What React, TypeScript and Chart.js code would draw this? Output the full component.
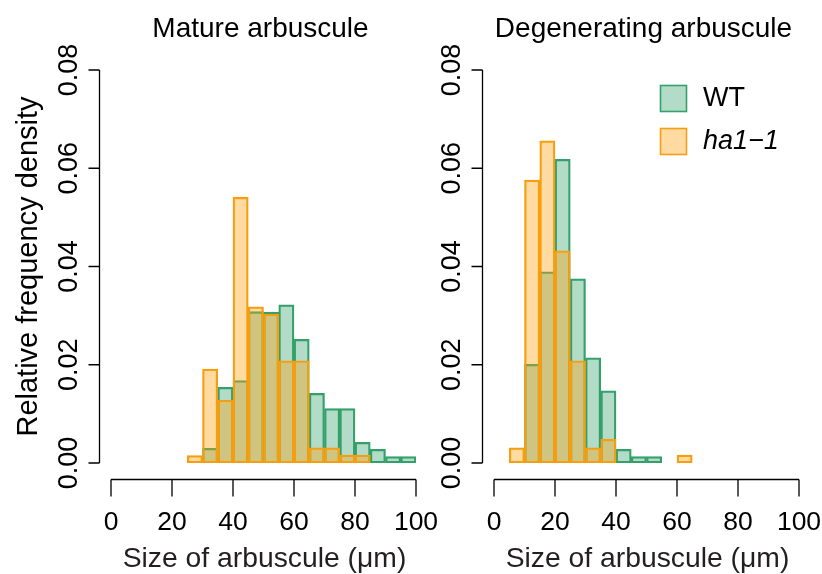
import React, { useEffect, useRef } from "react";
import { Chart, registerables } from "chart.js";

Chart.register(...registerables);

// Bin centres (bin width 5 µm)
const MATURE_WT_X = [32.5, 37.5, 42.5, 47.5, 52.5, 57.5, 62.5, 67.5, 72.5, 77.5, 82.5, 87.5, 92.5, 97.5];
const MATURE_WT_Y = [0.003, 0.0154, 0.0168, 0.0308, 0.0307, 0.0322, 0.0252, 0.0142, 0.0111, 0.0111, 0.0042, 0.0028, 0.0013, 0.0013];
const MATURE_HA_X = [27.5, 32.5, 37.5, 42.5, 47.5, 52.5, 57.5, 62.5, 67.5, 72.5, 77.5, 82.5];
const MATURE_HA_Y = [0.0015, 0.0191, 0.0128, 0.0541, 0.0318, 0.0303, 0.0208, 0.0208, 0.0031, 0.0031, 0.0016, 0.0016];

const DEGEN_WT_X = [12.5, 17.5, 22.5, 27.5, 32.5, 37.5, 42.5, 47.5, 52.5];
const DEGEN_WT_Y = [0.0201, 0.0389, 0.0618, 0.0375, 0.0214, 0.0147, 0.0028, 0.0013, 0.0013];
const DEGEN_HA_X = [7.5, 12.5, 17.5, 22.5, 27.5, 32.5, 37.5, 42.5, 47.5, 52.5, 57.5, 62.5];
const DEGEN_HA_Y = [0.0031, 0.0576, 0.0656, 0.0432, 0.0208, 0.0031, 0.0048, 0, 0, 0, 0, 0.0016];

const X_TICKS = [0, 20, 40, 60, 80, 100];
const Y_TICKS = [0, 0.02, 0.04, 0.06, 0.08];
const Y_TICK_LABELS = ["0.00", "0.02", "0.04", "0.06", "0.08"];

const SERIES_NAMES = ["WT", "ha1\u22121"];
const PANEL_TITLES = ["Mature arbuscule", "Degenerating arbuscule"];
const X_TITLE = "Size of arbuscule (\u03bcm)";
const Y_TITLE = "Relative frequency density";

const GREEN_BORDER = "rgb(52,160,106)";
const GREEN_FILL = "rgba(50,160,105,0.37)";
const ORANGE_BORDER = "rgb(245,158,18)";
const ORANGE_FILL = "rgba(255,160,10,0.38)";

const FONT = "'Liberation Sans', Arial, Helvetica, sans-serif";

type PanelProps = {
  left: number;
  width: number;
  padLeft: number;
  title: string;
  wtX: number[];
  wtY: number[];
  haX: number[];
  haY: number[];
  showYTitle: boolean;
  showLegend: boolean;
};

function Panel(props: PanelProps) {
  const ref = useRef<HTMLCanvasElement | null>(null);
  useEffect(() => {
    const canvas = ref.current;
    if (!canvas) return;
    const H = 574;
    const axesPlugin = {
      id: "rAxes",
      afterDraw(chart: any) {
        const ctx = chart.ctx as CanvasRenderingContext2D;
        const xs = chart.scales.x;
        const ys = chart.scales.y;
        const ca = chart.chartArea;
        ctx.save();
        ctx.strokeStyle = "#000";
        ctx.fillStyle = "#000";
        ctx.lineWidth = 1.3;
        // y axis
        const ax = Math.round(ca.left - 12) + 0.5;
        ctx.beginPath();
        ctx.moveTo(ax, ys.getPixelForValue(Y_TICKS[0]));
        ctx.lineTo(ax, ys.getPixelForValue(Y_TICKS[Y_TICKS.length - 1]));
        Y_TICKS.forEach((v) => {
          const py = ys.getPixelForValue(v);
          ctx.moveTo(ax, py);
          ctx.lineTo(ax - 11, py);
        });
        ctx.stroke();
        ctx.font = `27px ${FONT}`;
        ctx.textAlign = "center";
        ctx.textBaseline = "alphabetic";
        Y_TICKS.forEach((v, i) => {
          const py = ys.getPixelForValue(v);
          ctx.save();
          ctx.translate(ax - 23, py);
          ctx.rotate(-Math.PI / 2);
          ctx.fillText(Y_TICK_LABELS[i], 0, 0);
          ctx.restore();
        });
        // x axis
        const ay = Math.round(ca.bottom + 16) + 0.5;
        ctx.beginPath();
        ctx.moveTo(xs.getPixelForValue(X_TICKS[0]), ay);
        ctx.lineTo(xs.getPixelForValue(X_TICKS[X_TICKS.length - 1]), ay);
        X_TICKS.forEach((v) => {
          const px = xs.getPixelForValue(v);
          ctx.moveTo(px, ay);
          ctx.lineTo(px, ay + 17);
        });
        ctx.stroke();
        ctx.font = `26.5px ${FONT}`;
        X_TICKS.forEach((v) => {
          const px = xs.getPixelForValue(v);
          ctx.fillText(String(v), px, 530);
        });
        // x title
        const cx = (ca.left + ca.right) / 2;
        ctx.fillStyle = "#231f20";
        ctx.font = `28.3px ${FONT}`;
        ctx.fillText(X_TITLE, cx + 1, 567);
        // panel title
        ctx.fillStyle = "#000";
        ctx.font = `28px ${FONT}`;
        ctx.fillText(props.title, cx - 3, 37);
        if (props.showYTitle) {
          ctx.save();
          ctx.translate(37, (ca.top + ca.bottom) / 2);
          ctx.rotate(-Math.PI / 2);
          ctx.font = `29px ${FONT}`;
          ctx.fillText(Y_TITLE, 0, 0);
          ctx.restore();
        }
        if (props.showLegend) {
          const items = [
            { name: SERIES_NAMES[0], fill: GREEN_FILL, border: GREEN_BORDER, italic: false },
            { name: SERIES_NAMES[1], fill: ORANGE_FILL, border: ORANGE_BORDER, italic: true },
          ];
          const lx = 660.5 - props.left;
          items.forEach((it, i) => {
            const ty = 85.5 + i * 43;
            ctx.fillStyle = it.fill;
            ctx.fillRect(lx, ty, 26, 26);
            ctx.strokeStyle = it.border;
            ctx.lineWidth = 1.6;
            ctx.strokeRect(lx, ty, 26, 26);
            ctx.fillStyle = "#000";
            ctx.textAlign = "left";
            ctx.font = `${it.italic ? "italic " : ""}27px ${FONT}`;
            ctx.fillText(it.name, 703 - props.left, ty + 20);
          });
        }
        ctx.restore();
      },
    };
    const chart = new Chart(canvas, {
      type: "bar",
      data: {
        datasets: [
          {
            label: SERIES_NAMES[1],
            data: props.haX.map((x, i) => ({ x, y: props.haY[i] })),
            backgroundColor: ORANGE_FILL,
            borderColor: ORANGE_BORDER,
            borderWidth: 1.6,
            borderSkipped: false,
            order: 0,
          },
          {
            label: SERIES_NAMES[0],
            data: props.wtX.map((x, i) => ({ x, y: props.wtY[i] })),
            backgroundColor: GREEN_FILL,
            borderColor: GREEN_BORDER,
            borderWidth: 1.6,
            borderSkipped: false,
            order: 1,
          },
        ],
      },
      options: {
        responsive: false,
        animation: false,
        devicePixelRatio: 1,
        grouped: false,
        barPercentage: 1,
        categoryPercentage: 1,
        layout: {
          padding: { left: props.padLeft, right: props.width - props.padLeft - 305, top: 70, bottom: H - 463 },
        },
        plugins: { legend: { display: false }, tooltip: { enabled: false }, title: { display: false } },
        scales: {
          x: { type: "linear", min: 0, max: 100, offset: false, display: false },
          y: { type: "linear", min: 0, max: 0.08, display: false },
        },
      } as any,
      plugins: [axesPlugin],
    });
    return () => chart.destroy();
  }, []);
  return (
    <canvas
      ref={ref}
      width={props.width}
      height={574}
      style={{ position: "absolute", left: props.left, top: 0, width: props.width, height: 574 }}
    />
  );
}

export default function App() {
  return (
    <div style={{ position: "fixed", left: 0, top: 0, width: 822, height: 574, background: "#fff" }}>
      <Panel
        left={0}
        width={440}
        padLeft={111}
        title={PANEL_TITLES[0]}
        wtX={MATURE_WT_X}
        wtY={MATURE_WT_Y}
        haX={MATURE_HA_X}
        haY={MATURE_HA_Y}
        showYTitle={true}
        showLegend={false}
      />
      <Panel
        left={440}
        width={382}
        padLeft={54}
        title={PANEL_TITLES[1]}
        wtX={DEGEN_WT_X}
        wtY={DEGEN_WT_Y}
        haX={DEGEN_HA_X}
        haY={DEGEN_HA_Y}
        showYTitle={false}
        showLegend={true}
      />
    </div>
  );
}
